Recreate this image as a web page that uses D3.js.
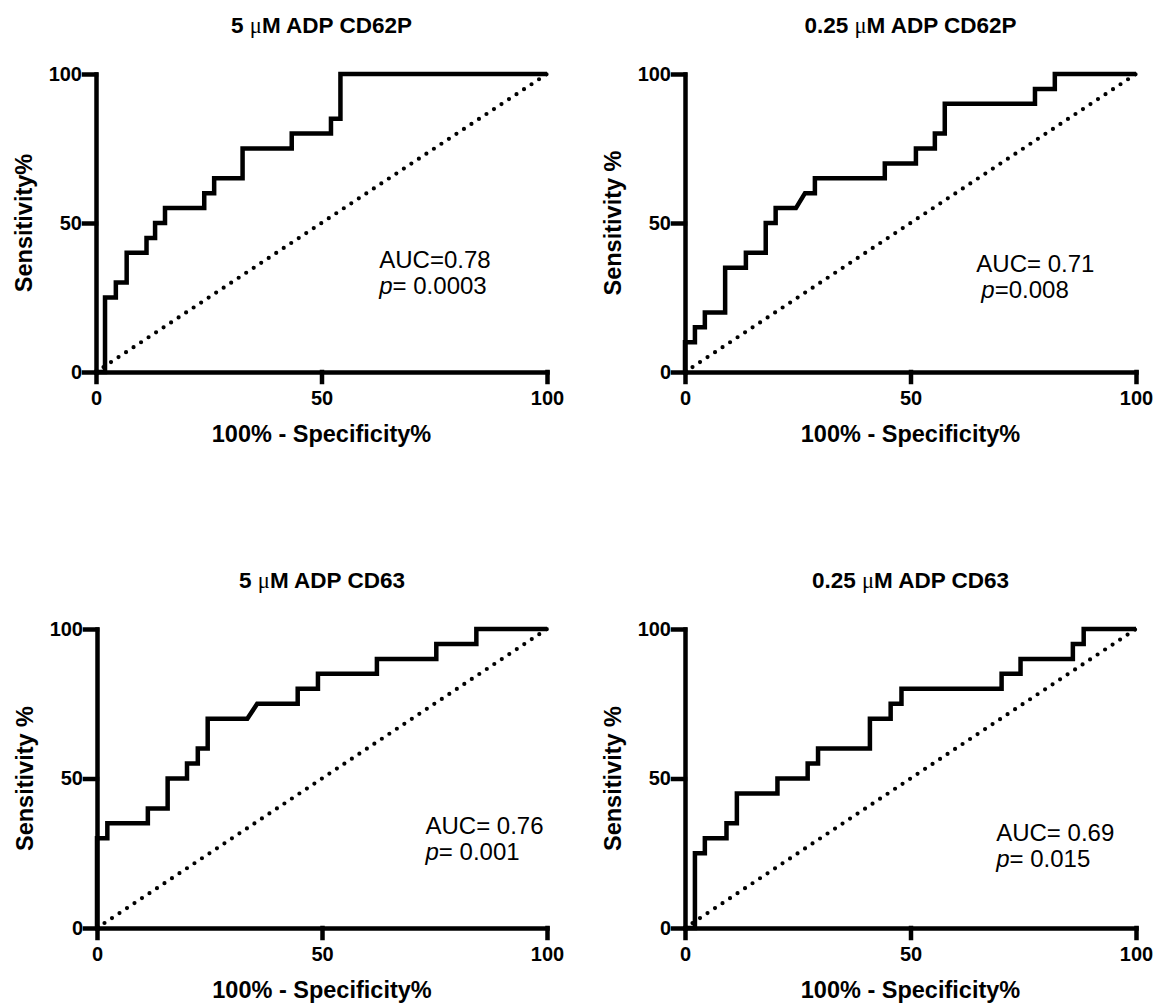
<!DOCTYPE html>
<html>
<head>
<meta charset="utf-8">
<script src="https://cdn.jsdelivr.net/npm/d3@7"></script>
<style>
  body { margin: 0; background: #fff; }
  svg { display: block; }
  text { font-family: "Liberation Sans", Arial, sans-serif; fill: #000; }
</style>
</head>
<body>
<svg id="chart" width="1171" height="1003"></svg>
<script>
// ROC points (x = 100% - specificity%, y = sensitivity%)
var fprCD62P_5 = [0, 2, 2, 4.4, 4.4, 6.8, 6.8, 11.2, 11.2, 13.1, 13.1, 15.3, 15.3, 24, 24, 26.2, 26.2, 32.5, 32.5, 43.4, 43.4, 52.1, 52.1, 54.2, 54.2, 100];
var sensCD62P_5 = [0, 0, 25, 25, 30, 30, 40, 40, 45, 45, 50, 50, 55, 55, 60, 60, 65, 65, 75, 75, 80, 80, 85, 85, 100, 100];

var fprCD62P_025 = [0, 0, 2.2, 2.2, 4.4, 4.4, 8.9, 8.9, 13.5, 13.5, 17.9, 17.9, 20.1, 20.1, 24.6, 26.6, 28.8, 28.8, 44.3, 44.3, 51.2, 51.2, 55.4, 55.4, 57.6, 57.6, 77.6, 77.6, 82, 82, 100];
var sensCD62P_025 = [0, 10, 10, 15, 15, 20, 20, 35, 35, 40, 40, 50, 50, 55, 55, 60, 60, 65, 65, 70, 70, 75, 75, 80, 80, 90, 90, 95, 95, 100, 100];

var fprCD63_5 = [0, 0, 2.3, 2.3, 11.3, 11.3, 15.7, 15.7, 20, 20, 22.4, 22.4, 24.6, 24.6, 33.4, 35.6, 44.6, 44.6, 49.1, 49.1, 62.2, 62.2, 75.4, 75.4, 84.3, 84.3, 100];
var sensCD63_5 = [0, 30, 30, 35, 35, 40, 40, 50, 50, 55, 55, 60, 60, 70, 70, 75, 75, 80, 80, 85, 85, 90, 90, 95, 95, 100, 100];

var fprCD63_025 = [0, 2.2, 2.2, 4.4, 4.4, 9.2, 9.2, 11.5, 11.5, 20.5, 20.5, 27.2, 27.2, 29.5, 29.5, 41, 41, 45.6, 45.6, 48, 48, 70.2, 70.2, 74.4, 74.4, 86, 86, 88.4, 88.4, 100];
var sensCD63_025 = [0, 0, 25, 25, 30, 30, 35, 35, 45, 45, 50, 50, 55, 55, 60, 60, 70, 70, 75, 75, 80, 80, 85, 85, 90, 90, 95, 95, 100, 100];

var ticks = [0, 50, 100];
var titles = [["5 ", "M ADP CD62P"], ["0.25 ", "M ADP CD62P"], ["5 ", "M ADP CD63"], ["0.25 ", "M ADP CD63"]];
var yLabels = ["Sensitivity%", "Sensitivity %", "Sensitivity %", "Sensitivity %"];
var xLabel = "100% - Specificity%";
var aucText = ["AUC=0.78", "AUC= 0.71", "AUC= 0.76", "AUC= 0.69"];
var pText = ["= 0.0003", "=0.008", "= 0.001", "= 0.015"];

// layout (pixel boxes of each plot area, and where the AUC note sits in data units)
var panels = [
  {l: 96,  r: 547,  t: 74,  b: 372, fpr: fprCD62P_5,   sens: sensCD62P_5,   note: [62.8, 35], pdx: 0},
  {l: 685, r: 1136, t: 74,  b: 372, fpr: fprCD62P_025, sens: sensCD62P_025, note: [64.6, 33.5], pdx: 5},
  {l: 97,  r: 547,  t: 629, b: 928, fpr: fprCD63_5,    sens: sensCD63_5,    note: [73, 31.5], pdx: 0},
  {l: 685, r: 1136, t: 629, b: 928, fpr: fprCD63_025,  sens: sensCD63_025,  note: [69, 29], pdx: 0}
];

var svg = d3.select('#chart');

panels.forEach(function(p, i){
  var x = d3.scaleLinear().domain([0, 100]).range([p.l, p.r]);
  var y = d3.scaleLinear().domain([0, 100]).range([p.b, p.t]);
  var g = svg.append('g');

  // chance line
  g.append('line')
    .attr('x1', x(0)).attr('y1', y(0))
    .attr('x2', x(100)).attr('y2', y(100))
    .attr('stroke', '#000')
    .attr('stroke-width', 4.2)
    .attr('stroke-linecap', 'round')
    .attr('stroke-dasharray', '0 9');

  // ROC curve
  var pts = p.fpr.map(function(v, k){ return [v, p.sens[k]]; });
  var line = d3.line()
    .x(function(d){ return x(d[0]); })
    .y(function(d){ return y(d[1]); });
  g.append('path')
    .datum(pts)
    .attr('d', line)
    .attr('fill', 'none')
    .attr('stroke', '#000')
    .attr('stroke-width', 4.5)
    .attr('stroke-linejoin', 'miter');

  // axes
  var xAxis = d3.axisBottom(x).tickValues(ticks).tickSize(10).tickSizeOuter(0).tickPadding(9);
  var yAxis = d3.axisLeft(y).tickValues(ticks).tickSize(12).tickSizeOuter(0).tickPadding(2);
  var gx = g.append('g').attr('transform', 'translate(0,' + p.b + ')').call(xAxis);
  var gy = g.append('g').attr('transform', 'translate(' + p.l + ',0)').call(yAxis);
  [gx, gy].forEach(function(a){
    a.selectAll('path, line').attr('stroke', '#000').attr('stroke-width', 4.5).attr('stroke-linecap', 'square');
    a.selectAll('text')
      .attr('fill', '#000')
      .style('font-family', '"Liberation Sans", Arial, sans-serif')
      .style('font-size', '20px')
      .style('font-weight', 'bold');
  });

  var cx = (p.l + p.r) / 2, cy = (p.t + p.b) / 2;

  // title
  var tt = g.append('text')
    .attr('x', cx).attr('y', p.t - 41)
    .attr('text-anchor', 'middle')
    .style('font-size', '22.5px').style('font-weight', 'bold');
  tt.append('tspan').text(titles[i][0]);
  tt.append('tspan').text('\u03bc')
    .style('font-family', '"Liberation Serif", "DejaVu Serif", serif')
    .style('font-weight', 'normal');
  tt.append('tspan').text(titles[i][1]);

  // axis titles
  g.append('text')
    .attr('x', cx).attr('y', p.b + 70)
    .attr('text-anchor', 'middle')
    .style('font-size', '23.5px').style('font-weight', 'bold')
    .text(xLabel);
  g.append('text')
    .attr('transform', 'translate(' + (p.l - 64) + ',' + cy + ') rotate(-90)')
    .attr('text-anchor', 'middle')
    .style('font-size', '23.5px').style('font-weight', 'bold')
    .text(yLabels[i]);

  // AUC note
  var nx = x(p.note[0]), ny = y(p.note[1]);
  g.append('text')
    .attr('x', nx).attr('y', ny)
    .style('font-size', '24px')
    .text(aucText[i]);
  var pt = g.append('text')
    .attr('x', nx + p.pdx).attr('y', ny + 26)
    .style('font-size', '24px');
  pt.append('tspan').style('font-style', 'italic').text('p');
  pt.append('tspan').text(pText[i]);
});
</script>
</body>
</html>
